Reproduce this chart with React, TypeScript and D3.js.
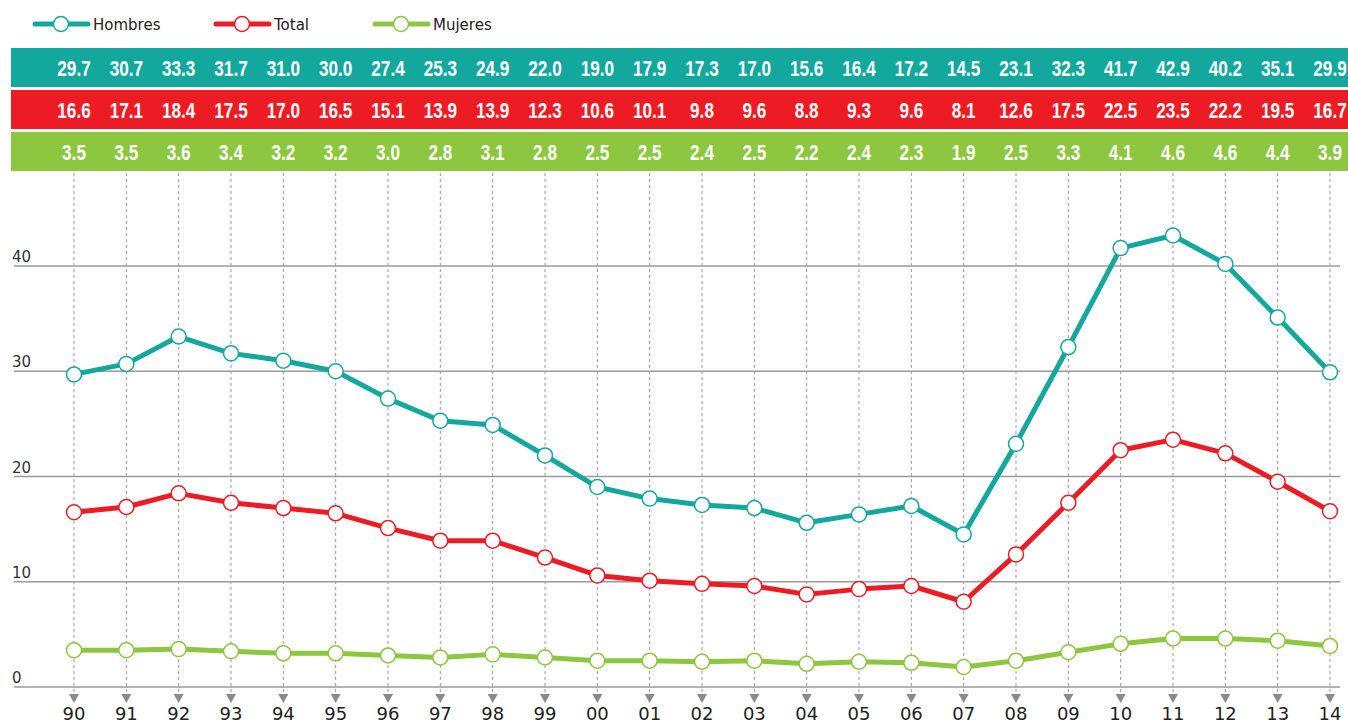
import { useEffect, useRef } from 'react';
import * as d3 from 'd3';

const years = ['90', '91', '92', '93', '94', '95', '96', '97', '98', '99', '00', '01', '02', '03', '04', '05', '06', '07', '08', '09', '10', '11', '12', '13', '14'];
const hombres = [29.7, 30.7, 33.3, 31.7, 31.0, 30.0, 27.4, 25.3, 24.9, 22.0, 19.0, 17.9, 17.3, 17.0, 15.6, 16.4, 17.2, 14.5, 23.1, 32.3, 41.7, 42.9, 40.2, 35.1, 29.9];
const total = [16.6, 17.1, 18.4, 17.5, 17.0, 16.5, 15.1, 13.9, 13.9, 12.3, 10.6, 10.1, 9.8, 9.6, 8.8, 9.3, 9.6, 8.1, 12.6, 17.5, 22.5, 23.5, 22.2, 19.5, 16.7];
const mujeres = [3.5, 3.5, 3.6, 3.4, 3.2, 3.2, 3.0, 2.8, 3.1, 2.8, 2.5, 2.5, 2.4, 2.5, 2.2, 2.4, 2.3, 1.9, 2.5, 3.3, 4.1, 4.6, 4.6, 4.4, 3.9];
const yTicks = [0, 10, 20, 30, 40];

const series = [
    { name: 'Hombres', values: hombres, color: '#13a89e' },
    { name: 'Total', values: total, color: '#ed1c24' },
    { name: 'Mujeres', values: mujeres, color: '#8dc63f' },
];

const W = 1348;
const H = 723;

export default function App() {
    const svgRef = useRef<SVGSVGElement>(null);

    useEffect(() => {
        if (!svgRef.current) return;
        const svg = d3.select(svgRef.current);
        svg.selectAll('*').remove();

        const x = d3.scalePoint<string>().domain(years).range([74, 1330]);
        const y = d3.scaleLinear().domain([0, 40]).range([687, 266]);

        const bandTop = [48, 90, 132];
        const bandH = 39;

        // value bands on top (condensed bold numbers)
        series.forEach((s, i) => {
            svg.append('rect')
                .attr('x', 11).attr('y', bandTop[i])
                .attr('width', W - 11).attr('height', bandH)
                .attr('fill', s.color);
            svg.append('g').selectAll('text')
                .data(s.values)
                .enter()
                .append('text')
                .attr('transform', (_d, j) => `translate(${x(years[j])},${bandTop[i] + bandH / 2 + 8}) scale(0.78,1)`)
                .attr('text-anchor', 'middle')
                .attr('fill', 'white')
                .attr('font-family', '"Liberation Sans", Arial, sans-serif')
                .attr('font-weight', 'bold')
                .attr('font-size', 22)
                .text(d => d.toFixed(1));
        });

        // horizontal grid
        svg.append('g').selectAll('line')
            .data(yTicks)
            .enter()
            .append('line')
            .attr('x1', 14).attr('x2', 1340)
            .attr('y1', d => y(d)).attr('y2', d => y(d))
            .attr('stroke', '#9a9a9a')
            .attr('stroke-width', 1.5);

        svg.append('g').selectAll('text')
            .data(yTicks)
            .enter()
            .append('text')
            .attr('x', 12)
            .attr('y', d => y(d) - 4)
            .attr('fill', '#333')
            .attr('font-family', '"DejaVu Sans", Verdana, sans-serif')
            .attr('font-size', 15)
            .text(d => d);

        // dotted verticals with arrow heads
        const vg = svg.append('g');
        years.forEach(yr => {
            const cx = x(yr)!;
            vg.append('line')
                .attr('x1', cx).attr('x2', cx)
                .attr('y1', 173).attr('y2', 696)
                .attr('stroke', '#9a9a9a')
                .attr('stroke-width', 1)
                .attr('stroke-dasharray', '3,3');
            vg.append('path')
                .attr('d', `M${cx - 5},${694} L${cx + 5},${694} L${cx},${703} Z`)
                .attr('fill', '#8a8a8a');
            vg.append('text')
                .attr('x', cx).attr('y', 720)
                .attr('text-anchor', 'middle')
                .attr('fill', '#222')
                .attr('font-family', '"DejaVu Sans", Verdana, sans-serif')
                .attr('font-size', 18)
                .text(yr);
        });

        // lines
        const line = d3.line<number>()
            .x((_d, j) => x(years[j])!)
            .y(d => y(d));

        series.forEach(s => {
            svg.append('path')
                .datum(s.values)
                .attr('d', line)
                .attr('fill', 'none')
                .attr('stroke', s.color)
                .attr('stroke-width', 5)
                .attr('stroke-linejoin', 'round');
            svg.append('g').selectAll('circle')
                .data(s.values)
                .enter()
                .append('circle')
                .attr('cx', (_d, j) => x(years[j])!)
                .attr('cy', d => y(d))
                .attr('r', 7.5)
                .attr('fill', 'white')
                .attr('stroke', s.color)
                .attr('stroke-width', 1.5);
        });

        // legend
        const legendX = [35, 216, 375];
        series.forEach((s, i) => {
            const lx = legendX[i];
            const g = svg.append('g');
            g.append('line')
                .attr('x1', lx).attr('x2', lx + 53)
                .attr('y1', 24).attr('y2', 24)
                .attr('stroke', s.color)
                .attr('stroke-width', 5)
                .attr('stroke-linecap', 'round');
            g.append('circle')
                .attr('cx', lx + 26).attr('cy', 24).attr('r', 7.5)
                .attr('fill', 'white')
                .attr('stroke', s.color)
                .attr('stroke-width', 1.5);
            g.append('text')
                .attr('x', lx + 58).attr('y', 29.5)
                .attr('fill', '#222')
                .attr('font-family', '"DejaVu Sans", Verdana, sans-serif')
                .attr('font-size', 15)
                .text(s.name);
        });
    }, []);

    return (
        <svg ref={svgRef} width={W} height={H}
            style={{ position: 'absolute', left: 0, top: 0, background: 'white' }} />
    );
}
